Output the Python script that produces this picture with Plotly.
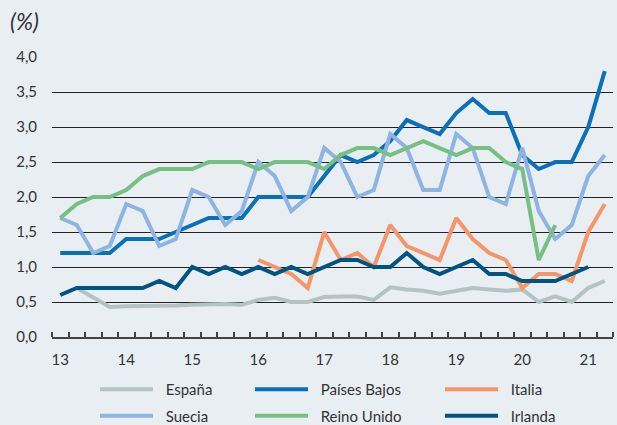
import plotly.graph_objects as go

# quarters 2013Q1 .. 2021Q2
quarters = list(range(34))
year_ticks = [0, 4, 8, 12, 16, 20, 24, 28, 32]
year_labels = ["13", "14", "15", "16", "17", "18", "19", "20", "21"]

espana = [None, 0.70, 0.57, 0.43, 0.44, 0.44, 0.45, 0.45, 0.46, 0.47, 0.47, 0.46,
          0.53, 0.56, 0.50, 0.50, 0.57, 0.58, 0.58, 0.53, 0.71, 0.68, 0.66, 0.62,
          0.66, 0.70, 0.68, 0.66, 0.68, 0.50, 0.58, 0.50, 0.70, 0.80]
paises_bajos = [1.2, 1.2, 1.2, 1.2, 1.4, 1.4, 1.4, 1.5, 1.6, 1.7, 1.7, 1.7,
                2.0, 2.0, 2.0, 2.0, 2.3, 2.6, 2.5, 2.6, 2.8, 3.1, 3.0, 2.9,
                3.2, 3.4, 3.2, 3.2, 2.6, 2.4, 2.5, 2.5, 3.0, 3.8]
italia = [None] * 12 + [1.1, 1.0, 0.9, 0.7, 1.5, 1.1, 1.2, 1.0, 1.6, 1.3, 1.2, 1.1,
                        1.7, 1.4, 1.2, 1.1, 0.7, 0.9, 0.9, 0.8, 1.5, 1.9]
suecia = [1.7, 1.6, 1.2, 1.3, 1.9, 1.8, 1.3, 1.4, 2.1, 2.0, 1.6, 1.8,
          2.5, 2.3, 1.8, 2.0, 2.7, 2.5, 2.0, 2.1, 2.9, 2.7, 2.1, 2.1,
          2.9, 2.7, 2.0, 1.9, 2.7, 1.8, 1.4, 1.6, 2.3, 2.6]
reino_unido = [1.7, 1.9, 2.0, 2.0, 2.1, 2.3, 2.4, 2.4, 2.4, 2.5, 2.5, 2.5,
               2.4, 2.5, 2.5, 2.5, 2.4, 2.6, 2.7, 2.7, 2.6, 2.7, 2.8, 2.7,
               2.6, 2.7, 2.7, 2.5, 2.4, 1.1, 1.6, None, None, None]
irlanda = [0.6, 0.7, 0.7, 0.7, 0.7, 0.7, 0.8, 0.7, 1.0, 0.9, 1.0, 0.9,
           1.0, 0.9, 1.0, 0.9, 1.0, 1.1, 1.1, 1.0, 1.0, 1.2, 1.0, 0.9,
           1.0, 1.1, 0.9, 0.9, 0.8, 0.8, 0.8, 0.9, 1.0, None]

series = [
    ("España", espana, "#b4c2c1", "legend"),
    ("Países Bajos", paises_bajos, "#0a70b8", "legend2"),
    ("Italia", italia, "#f4956a", "legend3"),
    ("Suecia", suecia, "#8db4e2", "legend"),
    ("Reino Unido", reino_unido, "#76c084", "legend2"),
    ("Irlanda", irlanda, "#005482", "legend3"),
]

fig = go.Figure()
for name, vals, color, leg in series:
    fig.add_trace(go.Scatter(
        x=quarters, y=vals, name="\u00a0\u00a0" + name, mode="lines",
        line=dict(color=color, width=4),
        legend=leg, legendgroup=name,
    ))

bg = "#e9eef3"
txt = "#333333"
font = "Lato"

legend_common = dict(
    orientation="v", yanchor="top", xanchor="left",
    bgcolor="rgba(0,0,0,0)", itemwidth=53, tracegroupgap=4,
    font=dict(family=font, size=15, color=txt),
)

# legend rows sit at y ~391 and ~415 px
leg_y = (337 - 373) / 280

fig.update_layout(
    width=617, height=425,
    margin=dict(l=52, r=4, t=57, b=88, autoexpand=False),
    paper_bgcolor=bg, plot_bgcolor=bg,
    separators=", ",
    font=dict(family=font, size=15, color=txt),
    legend=dict(x=(95 - 52) / 561, y=leg_y, **legend_common),
    legend2=dict(x=(250 - 52) / 561, y=leg_y, **legend_common),
    legend3=dict(x=(440 - 52) / 561, y=leg_y, **legend_common),
    annotations=[dict(
        text="<i>(%)</i>", xref="paper", yref="paper",
        x=(8 - 52) / 561, y=(337 - 21) / 280, xanchor="left", yanchor="middle",
        showarrow=False, font=dict(family=font, size=23, color=txt),
    )],
)

fig.update_xaxes(
    range=[-0.5, 33.5], tickmode="array", tickvals=year_ticks, ticktext=year_labels,
    showgrid=False, zeroline=False, showline=True, linecolor="#444444", linewidth=1.5,
    ticks="", ticklabelstandoff=8,
    minor=dict(tickmode="linear", tick0=-0.5, dtick=1, ticks="inside",
               ticklen=5, tickwidth=1.5, tickcolor="#444444", showgrid=False),
    tickfont=dict(family=font, size=15, color=txt),
)
fig.update_yaxes(
    range=[0, 4.001], tickmode="linear", tick0=0, dtick=0.5, tickformat=".1f",
    showgrid=True, gridcolor="#222222", gridwidth=1, zeroline=False,
    ticks="", ticklabelstandoff=14,
    tickfont=dict(family=font, size=15, color=txt),
)

# the page body has a default 8px margin; drop it so the figure fills the window
fig.write_html("out.html", config={"displayModeBar": False},
               post_script="document.body.style.margin='0px';")
